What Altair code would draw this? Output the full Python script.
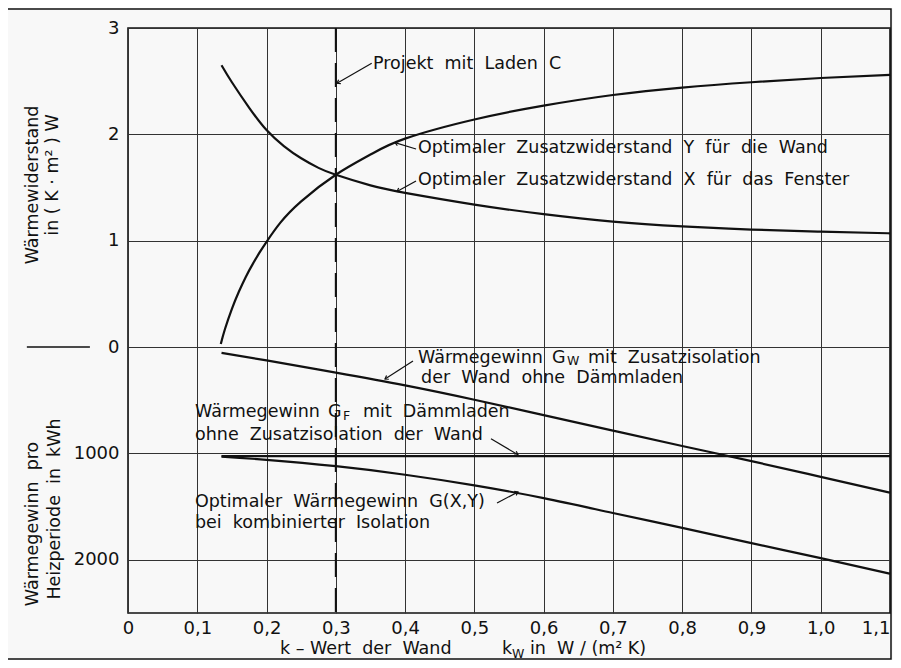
import altair as alt
import pandas as pd

# ---------------- data ----------------
k_ticks = [0, 0.1, 0.2, 0.3, 0.4, 0.5, 0.6, 0.7, 0.8, 0.9, 1.0, 1.1]
v_ticks = [3, 2, 1, 0, -1, -2]

# optimal additional resistance Y for the wall  (K*m2/W)
k_Y = [0.134, 0.14, 0.15, 0.16, 0.17, 0.18, 0.19, 0.2, 0.22, 0.25, 0.3, 0.35,
       0.4, 0.5, 0.6, 0.7, 0.8, 0.9, 1.0, 1.1]
Y_wall = [0.03, 0.17, 0.36, 0.52, 0.66, 0.78, 0.89, 0.99, 1.17, 1.37, 1.62, 1.81,
          1.96, 2.14, 2.27, 2.37, 2.44, 2.49, 2.53, 2.56]

# optimal additional resistance X for the window
k_X = [0.135, 0.15, 0.175, 0.2, 0.225, 0.25, 0.275, 0.3, 0.35, 0.4, 0.5, 0.6,
       0.7, 0.8, 0.9, 1.0, 1.1]
X_window = [2.65, 2.49, 2.25, 2.04, 1.89, 1.775, 1.685, 1.62, 1.52, 1.45, 1.34, 1.25,
            1.18, 1.135, 1.105, 1.085, 1.07]

# heat gains in kWh per heating period (plotted downward)
k_G = [0.135, 0.2, 0.3, 0.4, 0.5, 0.6, 0.7, 0.8, 0.9, 1.0, 1.1]
G_W = [55, 125, 240, 360, 495, 640, 785, 930, 1072, 1220, 1368]
G_XY = [1030, 1060, 1120, 1200, 1300, 1420, 1560, 1700, 1843, 1984, 2130]
k_GF = [0.135, 1.1]
G_F = [1025, 1025]

k_project = [0.3]

# ---------------- tables ----------------
rows = []
for k, v in zip(k_Y, Y_wall):
    rows.append({"k": k, "v": v, "s": "Y"})
for k, v in zip(k_X, X_window):
    rows.append({"k": k, "v": v, "s": "X"})
for k, g in zip(k_G, G_W):
    rows.append({"k": k, "v": -g / 1000, "s": "GW"})
for k, g in zip(k_G, G_XY):
    rows.append({"k": k, "v": -g / 1000, "s": "GXY"})
for k, g in zip(k_GF, G_F):
    rows.append({"k": k, "v": -g / 1000, "s": "GF"})
curves = pd.DataFrame(rows)

NB = "\u00a0\u00a0"
def wide(s):
    return s.replace(" ", NB)

notes = pd.DataFrame([
    {"t": wide("Projekt mit Laden C"), "k": 0.3537, "v": 2.662},
    {"t": wide("Optimaler Zusatzwiderstand Y für die Wand"), "k": 0.4186, "v": 1.872},
    {"t": wide("Optimaler Zusatzwiderstand X für das Fenster"), "k": 0.4186, "v": 1.571},
    {"t": "Wärmegewinn", "k": 0.4186, "v": -0.103},
    {"t": "G", "k": 0.6121, "v": -0.103},
    {"t": wide("mit Zusatzisolation"), "k": 0.6640, "v": -0.103},
    {"t": wide("der Wand ohne Dämmladen"), "k": 0.423, "v": -0.290},
    {"t": "Wärmegewinn", "k": 0.0967, "v": -0.610},
    {"t": "G", "k": 0.2887, "v": -0.610},
    {"t": wide("mit Dämmladen"), "k": 0.3392, "v": -0.610},
    {"t": wide("ohne Zusatzisolation der Wand"), "k": 0.0967, "v": -0.827},
    {"t": wide("Optimaler Wärmegewinn G(X,Y)"), "k": 0.0967, "v": -1.452},
    {"t": wide("bei kombinierter Isolation"), "k": 0.0967, "v": -1.654},
    {"t": "k – Wert" + NB + "der" + NB + "Wand", "k": 0.2194, "v": -2.834},
    {"t": "k", "k": 0.5399, "v": -2.834},
    {"t": "in" + NB + "W / (m² K)", "k": 0.5803, "v": -2.834},
])

subs = pd.DataFrame([
    {"t": "W", "k": 0.6337, "v": -0.128},
    {"t": "F", "k": 0.3104, "v": -0.648},
    {"t": "W", "k": 0.5543, "v": -2.885},
])

ytitles = pd.DataFrame([
    {"t": "Wärmewiderstand", "k": -0.1371, "v": 1.524},
    {"t": "in ( K · m² ) W", "k": -0.1083, "v": 1.618},
    {"t": "Wärmegewinn" + NB + "pro", "k": -0.1371, "v": -1.663},
    {"t": "Heizperiode" + NB + "in" + NB + "kWh", "k": -0.1054, "v": -1.522},
])

leaders = pd.DataFrame([
    {"k": 0.3518, "v": 2.668, "k2": 0.3017, "v2": 2.480, "a": 150.4},
    {"k": 0.4158, "v": 1.862, "k2": 0.3854, "v2": 1.923, "a": 197.2},
    {"k": 0.4158, "v": 1.561, "k2": 0.3883, "v2": 1.463, "a": 151.1},
    {"k": 0.4114, "v": -0.131, "k2": 0.3710, "v2": -0.300, "a": 148.7},
    {"k": 0.5240, "v": -0.862, "k2": 0.5630, "v2": -1.012, "a": 28.2},
    {"k": 0.5327, "v": -1.466, "k2": 0.5630, "v2": -1.362, "a": 333.4},
])
separator = pd.DataFrame([{"k": -0.146, "k2": -0.055, "v": 0}])
project = pd.DataFrame({"k": k_project})

# ---------------- chart ----------------
FONT = "DejaVu Sans"
INK = "#111111"
xs = alt.Scale(domain=[0, 1.1], nice=False, zero=False)
ys = alt.Scale(domain=[-2.5, 3], nice=False, zero=False)

xaxis = alt.Axis(values=k_ticks, grid=True, ticks=False, domain=False, title="",
                 labelExpr="datum.value == 0 ? '0' : replace(format(datum.value, '.1f'), '.', ',')",
                 labelAlign={"condition": {"test": "datum.value > 1.05", "value": "right"},
                             "value": "center"},
                 labelFont=FONT, labelFontSize=18, labelColor=INK, labelPadding=6,
                 gridColor="#333333", gridWidth=1, labelOverlap=False, labelFlush=False)
yaxis = alt.Axis(values=v_ticks, grid=True, ticks=False, domain=False, title="",
                 labelExpr="datum.value >= 0 ? format(datum.value, 'd') : format(-datum.value * 1000, 'd')",
                 labelFont=FONT, labelFontSize=18, labelColor=INK, labelPadding=9,
                 gridColor="#333333", gridWidth=1, labelOverlap=False)

X = lambda f: alt.X(f, scale=xs, axis=xaxis)
Yc = lambda f: alt.Y(f, scale=ys, axis=yaxis)

lines = alt.Chart(curves).mark_line(interpolate="natural", strokeWidth=2.2, color=INK).encode(
    x=X("k:Q"), y=Yc("v:Q"), detail="s:N")

dash = alt.Chart(project).mark_rule(strokeDash=[24, 11], strokeWidth=2, color=INK).encode(
    x=X("k:Q"), y=alt.datum(3, scale=ys, axis=yaxis), y2=alt.datum(-2.5))

note_txt = alt.Chart(notes).mark_text(align="left", baseline="middle", font=FONT,
                                      fontSize=17.5, color=INK).encode(
    x=X("k:Q"), y=Yc("v:Q"), text="t:N")

sub_txt = alt.Chart(subs).mark_text(align="left", baseline="middle", font=FONT,
                                    fontSize=12.5, color=INK).encode(
    x=X("k:Q"), y=Yc("v:Q"), text="t:N")

ytit = alt.Chart(ytitles).mark_text(align="center", baseline="middle", font=FONT,
                                    fontSize=17.5, color=INK, angle=270).encode(
    x=X("k:Q"), y=Yc("v:Q"), text="t:N")

lead = alt.Chart(leaders).mark_rule(strokeWidth=1.2, color=INK).encode(
    x=X("k:Q"), y=Yc("v:Q"), x2="k2:Q", y2="v2:Q")

heads = alt.Chart(leaders).mark_point(shape="M -1 -0.7 L 0 0 L -1 0.7", filled=False,
                                      strokeWidth=1.2, color=INK, size=40, opacity=1).encode(
    x=X("k2:Q"), y=Yc("v2:Q"), angle=alt.Angle("a:Q", scale=None))

sep = alt.Chart(separator).mark_rule(strokeWidth=1.5, color=INK).encode(
    x=X("k:Q"), x2="k2:Q", y=Yc("v:Q"))

frame = alt.Chart(separator).mark_rect(fill="transparent", stroke=INK, strokeWidth=1.5).encode(
    x=alt.value(-122), x2=alt.value(763), y=alt.value(-19), y2=alt.value(631))

chart = alt.layer(frame, lines, dash, lead, heads, sep, note_txt, sub_txt, ytit).properties(
    width=762, height=585,
    autosize=alt.AutoSizeParams(type="none"),
    padding={"left": 120, "top": 20, "right": 3, "bottom": 47},
    background="#f8f8f8",
).configure_view(stroke=INK, strokeWidth=1.6)

chart.save("out.html", embed_options={"renderer": "svg", "actions": False})
